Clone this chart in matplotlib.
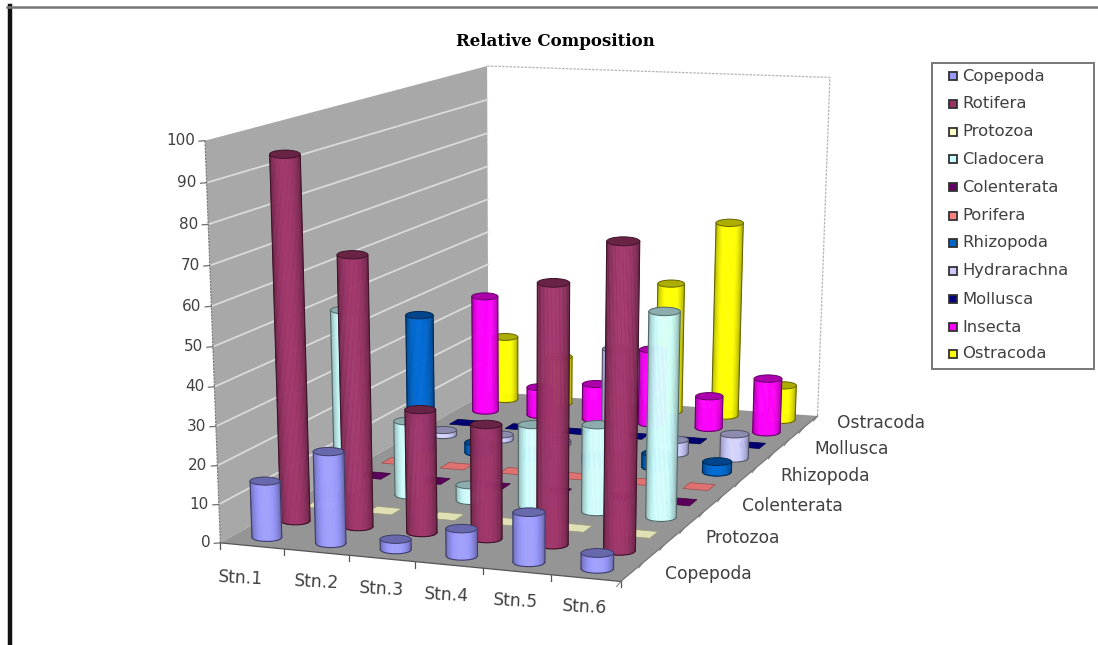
import numpy as np
import matplotlib
matplotlib.use("Agg")
import matplotlib.pyplot as plt
from matplotlib.collections import PolyCollection
from matplotlib.patches import Ellipse, Polygon, Rectangle
from matplotlib.colors import to_rgb

# ---- data ----
stations = ["Stn.1", "Stn.2", "Stn.3", "Stn.4", "Stn.5", "Stn.6"]
series_names = ["Copepoda", "Rotifera", "Protozoa", "Cladocera", "Colenterata", "Porifera",
                "Rhizopoda", "Hydrarachna", "Mollusca", "Insecta", "Ostracoda"]
y_ticks = [0, 10, 20, 30, 40, 50, 60, 70, 80, 90, 100]
depth_labels = ["Copepoda", "Protozoa", "Colenterata", "Rhizopoda", "Mollusca", "Ostracoda"]

copepoda = [14.7, 23.7, 2.7, 7, 12.7, 4]
rotifera = [94, 70, 32, 29.5, 66, 77]
protozoa = [0, 0, 0, 0, 0, 0]
cladocera = [49, 20.3, 4.3, 22, 23.3, 54]
colenterata = [0, 0, 0, 0, 0, 0]
porifera = [0, 0, 0, 0, 0, 0]
rhizopoda = [38.5, 3, 2, 2, 4, 3]
hydrarachna = [1.5, 1.5, 1, 29, 4, 7]
mollusca = [0, 0, 0, 0, 0, 0]
insecta = [35, 8.5, 10.7, 22.3, 9.5, 16]
ostracoda = [19.5, 14.5, 8, 39, 58, 10.5]

values = [copepoda, rotifera, protozoa, cladocera, colenterata, porifera,
          rhizopoda, hydrarachna, mollusca, insecta, ostracoda]
colors = ["#9999FF", "#993366", "#FFFFCC", "#CCFFFF", "#660066", "#FF8080",
          "#0066CC", "#CCCCFF", "#000080", "#FF00FF", "#FFFF00"]

# ---- perspective scale: (station, series, value) -> picture position ----
world = [(0, 0, 0), (6, 0, 0), (6, 11, 0), (0, 11, 0), (0, 0, 100), (0, 11, 100), (6, 11, 100)]
image = [(221, 543), (620, 582), (818, 415), (488, 392), (205, 140), (487, 66), (830, 78)]
rows = []
for (X, Y, Z), (px, py) in zip(world, image):
    rows.append([X, Y, Z, 1, 0, 0, 0, 0, -px * X, -px * Y, -px * Z, -px])
    rows.append([0, 0, 0, 0, X, Y, Z, 1, -py * X, -py * Y, -py * Z, -py])
P = np.linalg.svd(np.array(rows, float))[2][-1].reshape(3, 4)


def proj(u, v, z=0.0):
    h = P @ np.array([u, v, z, 1.0])
    return h[0] / h[2], h[1] / h[2]


plt.rcParams["font.family"] = ["DejaVu Sans"]
fig = plt.figure(figsize=(10.98, 6.45), dpi=100, facecolor="white")
ax = fig.add_axes([0, 0, 1, 1])
ax.set_xlim(0, 1098)
ax.set_ylim(645, 0)
ax.axis("off")

# picture frame
ax.plot([9.5, 9.5], [6, 645], color="#111111", lw=3.2, zorder=1)
ax.plot([7, 1098], [7, 7], color="#777777", lw=1.8, zorder=1)

# walls and floor
ax.add_patch(Polygon([proj(0, 0), proj(0, 11), proj(0, 11, 100), proj(0, 0, 100)],
                     fc="#A8A8A8", ec="none", zorder=2))
ax.add_patch(Polygon([proj(0, 0), proj(6, 0), proj(6, 11), proj(0, 11)],
                     fc="#959595", ec="none", zorder=2.1))
for t in y_ticks[1:-1]:
    a, b = proj(0, 0, t), proj(0, 11, t)
    ax.plot([a[0], b[0]], [a[1], b[1]], color="#DADADA", lw=1.3, zorder=2.2)
for t in y_ticks:
    a, b = proj(0, 0, t), proj(0, 11, t)
    ax.plot([a[0] - 6, a[0]], [a[1] + 0.5, a[1]], color="#707070", lw=0.9, zorder=2.2)
    ax.text(a[0] - 10, a[1], str(t), ha="right", va="center", fontsize=11, color="#404040")
pts = [proj(0, 11, 100), proj(6, 11, 100), proj(6, 11)]
ax.plot(*zip(*pts), color="#B5B5B5", lw=0.9, ls=(0, (2, 1)), zorder=2.2)
ax.plot(*zip(proj(0, 0), proj(0, 0, 100)), color="#777777", lw=0.8, ls=(0, (2, 1)), zorder=2.2)
ax.plot(*zip(proj(0, 0), proj(6, 0)), color="#555555", lw=0.9, zorder=2.2)
ax.plot(*zip(proj(6, 0), proj(6, 11)), color="#777777", lw=0.9, zorder=2.2)
for i in range(7):
    a = proj(i, 0)
    ax.plot([a[0], a[0]], [a[1], a[1] + 6], color="#555555", lw=0.9, zorder=2.2)
for j in range(12):
    a = proj(6, j)
    ax.plot([a[0], a[0] - 4], [a[1], a[1] + 5], color="#777777", lw=0.7, zorder=2.2)


def shade(col, f):
    return tuple(min(1, c * f) for c in col)


def cylinder(u, v, val, col, z):
    c = to_rgb(col)
    dark = shade(c, 0.4)
    half = 0.235
    if val <= 0:
        r = 0.2
        corners = [proj(u - r, v - r), proj(u + r, v - r), proj(u + r, v + r), proj(u - r, v + r)]
        ax.add_patch(Polygon(corners, fc=shade(c, 0.88), ec=shade(c, 0.6), lw=0.5, zorder=z))
        return
    bx, by = proj(u, v)
    tx, ty = proj(u, v, val)
    ab = np.hypot(*np.subtract(proj(u + half, v), proj(u - half, v))) / 2
    at = np.hypot(*np.subtract(proj(u + half, v, val), proj(u - half, v, val))) / 2
    ratio = 0.27
    s = np.linspace(-1, 1, 25)
    low = np.sqrt(1 - s ** 2)
    xb, yb = bx + ab * s, by + ab * ratio * low
    xt, yt = tx + at * s, ty + at * ratio * low
    quads, fcs = [], []
    for i in range(len(s) - 1):
        quads.append([(xb[i], yb[i]), (xb[i + 1], yb[i + 1]), (xt[i + 1], yt[i + 1]), (xt[i], yt[i])])
        m = abs((s[i] + s[i + 1]) / 2)
        fcs.append(shade(c, 1.06 - 0.38 * m ** 2.5))
    ax.add_collection(PolyCollection(quads, facecolors=fcs, edgecolors=fcs, linewidths=0.4, zorder=z))
    ax.plot(xb, yb, color=dark, lw=0.8, zorder=z + 0.001)
    ax.plot([xb[0], xt[0]], [yb[0], yt[0]], color=dark, lw=0.8, zorder=z + 0.001)
    ax.plot([xb[-1], xt[-1]], [yb[-1], yt[-1]], color=dark, lw=0.8, zorder=z + 0.001)
    ax.add_patch(Ellipse((tx, ty), 2 * at, 2 * at * ratio, fc=shade(c, 0.68), ec=dark, lw=0.7, zorder=z + 0.002))


for j in range(len(series_names) - 1, -1, -1):
    for i in range(len(stations)):
        cylinder(i + 0.5, j + 0.5, values[j][i], colors[j], 3 + (11 - j) + i * 0.01)

# axis labels
stn_pos = [(241, 578), (317, 582), (382, 589), (447, 595), (516, 601), (585, 607)]
for name, (x, y) in zip(stations, stn_pos):
    ax.text(x, y, name, ha="center", va="center", fontsize=12.3, color="#404040", rotation=-3)
dep_pos = [(708, 574), (743, 538), (792, 506), (825, 476), (852, 449), (881, 423)]
for name, (x, y) in zip(depth_labels, dep_pos):
    ax.text(x, y, name, ha="center", va="center", fontsize=12.3, color="#404040")

ax.text(555, 41, "Relative Composition", ha="center", va="center", fontsize=12,
        fontweight="bold", family="DejaVu Serif", color="black")

# legend
ax.add_patch(Rectangle((932, 63), 162, 306, fc="white", ec="#777777", lw=1.4, zorder=20))
leg_y = [76, 104, 132, 159, 187, 216, 243, 271, 299, 327, 354]
for name, col, y in zip(series_names, colors, leg_y):
    ax.add_patch(Rectangle((949, y - 4), 8, 8, fc=col, ec="#303030", lw=1.3, zorder=21))
    ax.text(962, y, name, ha="left", va="center", fontsize=11.8, color="#404040", zorder=21)

fig.savefig("out.png", dpi=100)
